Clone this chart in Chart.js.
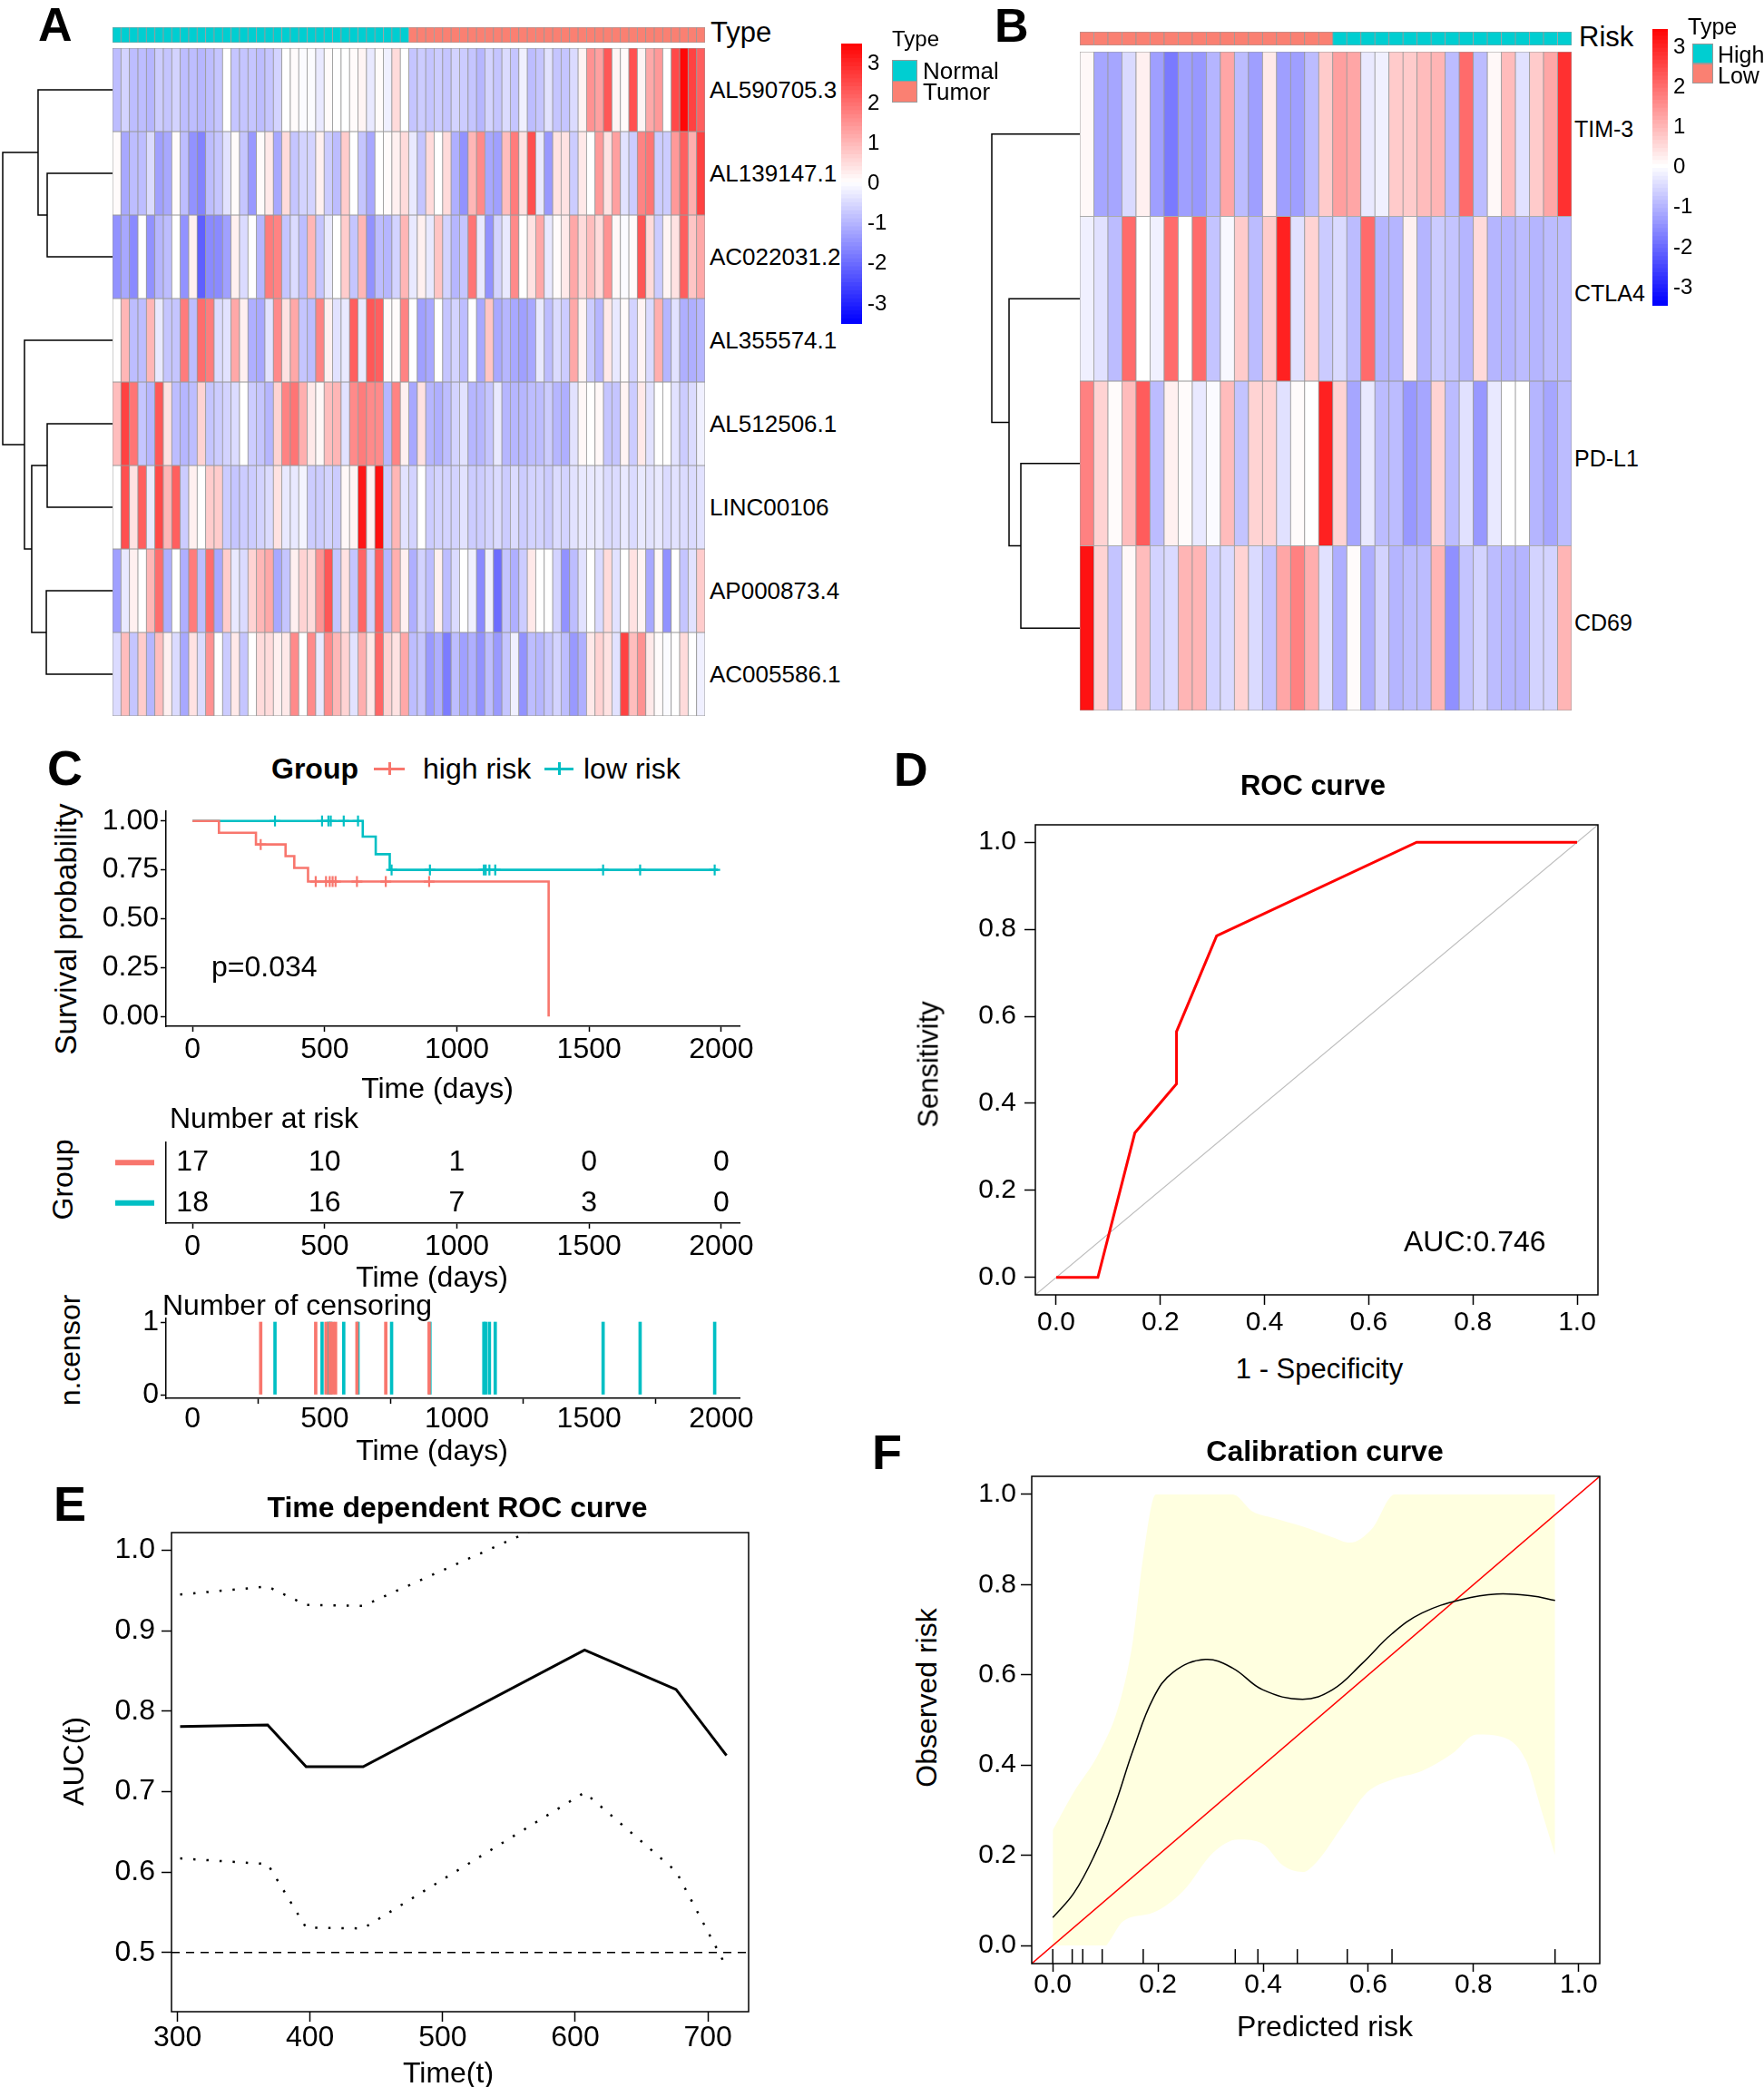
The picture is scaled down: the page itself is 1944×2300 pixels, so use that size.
<!DOCTYPE html>
<html><head><meta charset="utf-8">
<script src="https://cdn.jsdelivr.net/npm/chart.js@4.4.0/dist/chart.umd.min.js"></script>
<style>
body{margin:0;background:#fff}
#fig{position:relative;width:1944px;height:2300px;background:#fff;overflow:hidden;font-family:'Liberation Sans',Arial,sans-serif;color:#000}
#fig canvas{position:absolute}
.t{position:absolute;white-space:nowrap;line-height:1}
.r{position:absolute;box-sizing:border-box}
</style></head><body><div id="fig"></div><script>
// ---------- heatmap A ----------
const rowNamesA = ['AL590705.3','AL139147.1','AC022031.2','AL355574.1','AL512506.1','LINC00106','AP000873.4','AC005586.1'];
const typeCountsA = [['Normal', 35], ['Tumor', 35]];
const exprA = [
  [-0.9,-0.6,-0.9,-0.9,-1.0,-0.7,-0.8,-0.6,-0.9,-0.9,-1.0,-0.9,-0.8,0,-0.8,-0.8,-0.8,-0.9, -0.8,-0.6,0,0.05,-0.05,-0.05,-0.3,0.05,0,0,0.05,0.15,-0.3,0.05,-0.2,0.5,0,-0.8, -0.7,-0.8,-0.7,-0.8,-0.6,-0.7,-0.8,-1.0,-0.6,-0.8,-0.5,-0.8,-0.2,-0.9,-0.8,-0.4,-0.8, -0.8,-0.5,0.15,1.5,1.3,2.3,0.15,0.05,2.4,0.15,1.2,1.4,0,2.5,3.4,2.6,2.2],
  [0.05,-1.2,-0.9,-0.9,-0.5,-1.3,-1.2,0.05,-0.9,-1.5,-1.7,-0.9,-0.8,-0.4,0.05,-0.8,-1.4,0.05, 0.3,-1.2,0.5,-0.8,-0.6,-0.6,0.2,-0.7,-0.9,0.7,0,-0.8,-1.2,0,0.05,0.2,0.5,-0.3, -0.8,0.5,0,0.5,-1.1,-1.5,1.0,1.6,-1.2,-1.3,0.9,1.8,0.4,2.4,-0.3,-1.4,0.4, 0.4,-0.7,0.3,0,1.4,0.4,1.3,-0.4,-0.7,1.7,1.9,-0.7,-0.7,1.4,2.2,1.1,2.6],
  [-1.5,-1.2,-1.6,0,-1.5,-1.0,-0.9,0,-1.5,0.2,-2.2,-1.6,-1.6,-1.3,0.2,-0.5,0,-1.0, 1.8,1.7,-0.8,-0.5,-0.9,1.0,-0.8,-0.3,0,0.7,-0.8,1.0,-1.5,-0.9,-1.0,-0.6,1.0,-0.3, 0.2,-0.3,0.8,-0.6,-1.0,-0.8,1.9,-0.3,-1.5,-0.6,-0.3,1.6,0,0.4,1.2,-0.3,0.05, 0.3,1.2,0.5,0.9,0.5,1.5,0.1,-0.05,0.05,2.3,0.5,-0.7,0.15,0.4,2.2,0.8,1.2],
  [0.02,1.0,-0.9,-0.9,1.0,-0.3,-0.8,-0.8,1.8,-0.9,2.0,1.8,-0.5,-0.4,1.2,0.2,-1.1,-1.2, -0.4,1.6,0.4,1.2,-0.8,-0.9,1.7,0.2,-0.4,-0.3,2.2,-0.3,2.3,2.2,0.05,0.05,1.7,0, -1.3,-1.2,0,-0.8,-0.6,-0.9,0,-1.2,0.8,-1.2,-1.0,-1.2,-1.3,-1.2,-0.3,-0.9,-0.5, -0.7,1.2,0.15,-0.7,-1.0,0.3,-0.3,0.05,-0.6,0.15,-0.5,1.1,-1.0,-0.4,-1.1,-1.1,-1.0],
  [0.9,2.6,1.9,-0.8,-1.0,2.3,0.4,-0.9,-1.0,-0.9,0.6,-0.8,-0.7,-0.6,-0.5,0,-0.7,-0.8, -1.0,0.6,1.7,1.9,1.1,0.3,0.1,0.9,1.0,-0.4,1.6,1.8,1.6,1.6,-1.0,1.7,0.2,-1.2, 0.4,-1.0,-1.1,-0.9,-0.6,-0.4,-1.0,-1.0,-0.8,-0.3,-1.0,-1.0,-1.0,-0.9,-0.9,-0.7,-1.0, -1.1,-0.4,0.1,0,0.1,-0.8,-0.8,0.15,-0.7,0.3,-0.4,0,0,-0.4,-0.7,-0.5,-0.2],
  [0,2.4,0.4,2.2,-0.3,2.5,1.0,2.2,-0.7,0.2,0,0.7,0.7,-0.7,-0.8,-0.7,-0.7,-0.6, -0.5,0.4,-0.3,-0.3,-0.15,-0.7,-0.7,-0.6,-0.7,0.1,0.15,3.2,0.2,3.3,-0.7,1.0,-0.4,-0.6, 0,-0.7,-0.6,-0.6,-0.6,-0.4,-0.7,-0.7,-0.6,-0.5,-0.7,-0.5,-0.7,-0.6,-0.6,-0.7,-0.5, -0.6,-0.4,-0.3,-0.3,-0.3,-0.5,-0.5,-0.3,-0.5,-0.3,-0.4,-0.3,-0.5,-0.4,-0.5,-0.5,-0.4],
  [-1.3,-0.3,0.2,0,1.0,2.0,-1.1,0,-1.1,1.8,-0.9,2.0,-1.2,0.7,-0.3,-0.5,0.6,1.0, 1.2,-1.2,-0.8,0.2,0.6,0.5,1.5,2.3,-0.8,0.4,-0.8,2.1,-0.6,2.2,-1.0,1.1,0.2,-1.1, -0.6,-0.9,0.2,-0.9,-0.5,0,-0.2,-1.6,-0.2,-2.0,-0.8,-1.1,-0.7,0.3,0,0,-0.6, -1.5,-0.9,-0.4,0,-0.5,0.5,-0.4,0,0.4,0.15,-1.2,0.1,-1.5,0,-0.8,-0.4,0.7],
  [-0.5,0.9,-0.8,0.7,-1.0,0.9,0.2,-0.5,-1.2,0.4,-0.5,1.5,0,-0.7,0.3,-0.8,0,0.5, 0.5,0.2,0.3,1.6,0,1.6,-0.3,1.6,1.0,0.6,-0.4,1.1,0.3,2.1,0.6,0.4,1.2,-0.9, -0.8,-1.4,-1.1,-1.8,-0.9,-1.3,-1.1,-1.5,-0.9,-1.4,-0.8,-0.2,-1.5,-0.9,-1.0,-0.8,-0.6, -0.9,-1.4,-1.1,0.3,0.6,0.4,-0.4,2.6,0.9,1.5,0.3,0.05,-0.05,0,0.5,0,-0.2]
];
// merges: [child, child, height]; numbers are leaves (row index from 1), 'mK' is merge K
const dendroA = [[2, 3, 0.595], [1, 'm0', 0.678], [5, 6, 0.595], [7, 8, 0.603], ['m2', 'm3', 0.736], [4, 'm4', 0.802], ['m1', 'm5', 1.0]];
const scaleTicks = [-3, -2, -1, 0, 1, 2, 3];

// ---------- heatmap B ----------
const rowNamesB = ['TIM-3', 'CTLA4', 'PD-L1', 'CD69'];
const riskCountsB = [['Low', 18], ['High', 17]];
const exprB = [
  [0.1,-1.2,-1.2,-0.5,0.2,-1.3,-1.8,-1.3,-1.4,-1.0,1.2,-0.9,-1.3,0.3,-1.3,-1.3,-0.9,0.7,1.3,1.2,-0.3,-0.2,0.7,0.7,0.9,1.0,-0.9,2.0,-0.9,0.1,0.9,-0.4,0.7,1.2,2.8],
  [-0.2,-0.4,-0.9,2.0,0,-0.2,2.0,0,2.0,-0.8,-0.1,0.7,-0.9,0.7,3.0,-0.4,0.6,-0.7,-0.5,-0.9,2.0,-1.0,-1.0,0.2,-1.0,-0.7,-0.8,-1.0,0.5,-1.0,-1.0,-0.9,-1.0,-0.9,-0.9],
  [1.7,0.6,0.05,0.9,2.2,-0.9,0.2,0.05,-0.3,-0.05,0.9,-0.8,0.6,0.6,-0.4,0.05,0,3.0,0.6,-1.2,-0.3,-0.9,-0.9,-1.4,-1.2,0.6,-0.9,-0.4,-1.4,-0.3,0,0,-1.0,-1.2,-0.9],
  [3.2,0.6,-0.8,0.1,0.9,-0.6,-0.5,1.0,1.0,-0.6,-0.5,0.6,-0.5,-0.8,1.2,1.7,1.1,-0.4,-1.1,0.05,-1.1,-0.6,-1.0,-0.9,-0.9,1.0,-1.5,-0.8,-0.6,-0.9,-1.0,-1.0,-0.6,-0.6,1.0]
];
const dendroB = [[3, 4, 0.67], [2, 'm0', 0.804], [1, 'm1', 1.0]];

// ---------- C: Kaplan-Meier ----------
const kmTicksX = [0, 500, 1000, 1500, 2000];
const kmTicksY = [0, 0.25, 0.5, 0.75, 1];
const highTimes = [0, 100, 240, 352, 385, 437, 1347];
const highSurv = [1, 0.94, 0.88, 0.82, 0.76, 0.69, 0];
const lowTimes = [0, 644, 693, 746, 1987];
const lowSurv = [1, 0.92, 0.83, 0.75, 0.75];
const highCensor = [258, 466, 505, 519, 530, 541, 622, 731, 895];
const lowCensor = [312, 490, 514, 523, 572, 626, 753, 898, 1102, 1109, 1123, 1145, 1553, 1693, 1975];
const riskTimes = [0, 500, 1000, 1500, 2000];
const riskHigh = [17, 10, 1, 0, 0];
const riskLow = [18, 16, 7, 3, 0];

// ---------- D: ROC ----------
const rocFPR = [0, 0.08, 0.151, 0.231, 0.231, 0.308, 0.692, 1.0];
const rocTPR = [0, 0, 0.332, 0.445, 0.565, 0.785, 1.0, 1.0];
const ticks01 = [0, 0.2, 0.4, 0.6, 0.8, 1.0];

// ---------- E: time dependent ROC ----------
const eTimes = [302, 368, 397, 440, 607, 676, 714];
const eAUC = [0.781, 0.783, 0.731, 0.731, 0.876, 0.827, 0.745];
const eLower = [0.617, 0.610, 0.531, 0.530, 0.699, 0.601, 0.482];
const eUpper = [0.945, 0.955, 0.932, 0.931, 1.054, 1.05, 1.03];
const eTicksX = [300, 400, 500, 600, 700];
const eTicksY = [0.5, 0.6, 0.7, 0.8, 0.9, 1.0];

// ---------- F: calibration ----------
const calX = [0, 0.04, 0.078, 0.115, 0.153, 0.191, 0.229, 0.29, 0.342, 0.399, 0.475, 0.532, 0.588, 0.645, 0.702, 0.778, 0.844, 0.91, 0.955];
const calY = [0.062, 0.116, 0.197, 0.301, 0.434, 0.548, 0.606, 0.634, 0.615, 0.567, 0.546, 0.567, 0.625, 0.691, 0.737, 0.767, 0.779, 0.775, 0.765];
const bandUpX = [0, 0.04, 0.087, 0.125, 0.153, 0.172, 0.196, 0.342, 0.38, 0.418, 0.475, 0.532, 0.565, 0.607, 0.65, 0.955];
const bandUpY = [0.256, 0.34, 0.425, 0.53, 0.68, 0.862, 1.0, 1.0, 0.962, 0.948, 0.929, 0.905, 0.893, 0.924, 1.0, 1.0];
const bandLoX = [0, 0.101, 0.106, 0.134, 0.191, 0.248, 0.305, 0.352, 0.40, 0.437, 0.475, 0.503, 0.55, 0.598, 0.645, 0.702, 0.759, 0.806, 0.853, 0.90, 0.929, 0.955];
const bandLoY = [0, 0, 0.007, 0.054, 0.073, 0.121, 0.206, 0.235, 0.225, 0.178, 0.163, 0.187, 0.263, 0.34, 0.368, 0.387, 0.425, 0.468, 0.463, 0.41, 0.30, 0.20];
const rugX = [0, 0.037, 0.057, 0.094, 0.172, 0.347, 0.390, 0.465, 0.560, 0.645, 0.955];

const HIGH = '#F8766D', LOW = '#00BFC4';
const annoColors = { Normal: '#00CED1', Tumor: '#FA8072', High: '#00CED1', Low: '#FA8072' };

// ---------- helpers ----------
Chart.defaults.font.family = "'Liberation Sans', Arial, sans-serif";
Chart.defaults.color = '#000';
const fig = document.getElementById('fig');

Chart.register({
  id: 'box',
  afterDraw(chart, args, o) {
    if (!o.on) return;
    const a = chart.chartArea, ctx = chart.ctx;
    ctx.save(); ctx.strokeStyle = '#000'; ctx.lineWidth = 1.5;
    ctx.strokeRect(a.left, a.top, a.right - a.left, a.bottom - a.top);
    ctx.restore();
  }
});

function canvasAt(L, T, W, H) {
  const c = document.createElement('canvas');
  c.width = W; c.height = H;
  Object.assign(c.style, { left: L + 'px', top: T + 'px', width: W + 'px', height: H + 'px' });
  fig.appendChild(c);
  return c;
}
function frame(L, T, W, H, x0, y0, x1, y1) {
  return { canvas: canvasAt(L, T, W, H), padding: { left: 0, top: y0 - T, right: L + W - x1, bottom: 0 }, yW: x0 - L, xH: T + H - y1 };
}
function txt(s, x, y, size, o = {}) {
  const d = document.createElement('div');
  d.className = 't'; d.textContent = s;
  Object.assign(d.style, { left: x + 'px', top: y + 'px', fontSize: size + 'px' });
  if (o.bold) d.style.fontWeight = 'bold';
  const ax = o.align === 'c' ? '-50%' : o.align === 'r' ? '-100%' : '0';
  d.style.transform = o.rot ? 'translate(-50%,-50%) rotate(-90deg)' : `translate(${ax},-50%)`;
  fig.appendChild(d);
}
function rect(x, y, w, h, bg, border) {
  const d = document.createElement('div');
  d.className = 'r';
  Object.assign(d.style, { left: x + 'px', top: y + 'px', width: w + 'px', height: h + 'px', background: bg });
  if (border) d.style.border = border;
  fig.appendChild(d);
}
function axis(a, pos, size) {
  return {
    type: 'linear', position: pos, min: a.min, max: a.max, reverse: !!a.reverse, offset: false,
    afterBuildTicks: s => { s.ticks = (a.ticks || []).map(v => ({ value: v })); },
    afterFit: s => {
      if (pos === 'left' || pos === 'right') s.width = size; else s.height = size;
      s.paddingTop = s.paddingBottom = s.paddingLeft = s.paddingRight = 0;
    },
    grid: { display: !!a.tl, drawOnChartArea: false, drawTicks: true, tickLength: a.tl || 0, tickColor: '#000', tickWidth: 1.5 },
    border: { display: !!a.line, color: '#000', width: 1.5 },
    ticks: { display: !!a.fmt, callback: a.fmt || (() => ''), font: { size: a.size || 30, lineHeight: 1 }, color: '#000', padding: a.pad || 0, maxRotation: 0, autoSkip: false }
  };
}
function baseOpts(padding) {
  return {
    responsive: false, animation: false, devicePixelRatio: 1, events: [],
    layout: { autoPadding: false, padding },
    plugins: { legend: { display: false }, tooltip: { enabled: false } }
  };
}
function xyChart(f, xa, ya, datasets, box, type, plugins) {
  const o = baseOpts(f.padding);
  o.plugins.box = { on: !!box };
  o.scales = { x: axis(xa, 'bottom', f.xH), y: axis(ya, 'left', f.yW) };
  return new Chart(f.canvas, { type: type || 'scatter', data: { datasets }, options: o, plugins: plugins || [] });
}
const line = (pts, color, w, extra) => Object.assign({ data: pts, showLine: true, borderColor: color, backgroundColor: color, borderWidth: w, pointRadius: 0, tension: 0 }, extra || {});
const zip = (xs, ys) => xs.map((x, i) => ({ x, y: ys[i] }));
const expand = counts => counts.flatMap(([k, n]) => Array.from({ length: n }, () => k));
function heatColor(v, lim) {
  const t = Math.max(-1, Math.min(1, v / lim));
  const k = Math.round(255 * (1 - Math.abs(t)));
  return t >= 0 ? `rgb(255,${k},${k})` : `rgb(${k},${k},255)`;
}
function heatChart(L, T, W, H, rows, colorOf) {
  const o = baseOpts(0);
  o.scales = { x: { display: false, stacked: true }, y: { display: false, stacked: true, reverse: true, min: 0, max: rows.length } };
  new Chart(canvasAt(L, T, W, H), {
    type: 'bar',
    data: {
      labels: rows[0].map((_, i) => i + 1),
      datasets: rows.map(r => ({ data: r.map(() => 1), backgroundColor: r.map(colorOf), borderColor: '#999', borderWidth: 0.8, borderSkipped: false, barPercentage: 1, categoryPercentage: 1 }))
    },
    options: o
  });
}
function dendroChart(L, T, W, H, padLeft, merges, nLeaves) {
  const nodes = [];
  const get = k => typeof k === 'number' ? { h: 0, y: k - 0.5 } : nodes[+k.slice(1)];
  const sets = merges.map(([a, b, h]) => {
    const A = get(a), B = get(b);
    nodes.push({ h, y: (A.y + B.y) / 2 });
    return line([{ x: A.h, y: A.y }, { x: h, y: A.y }, { x: h, y: B.y }, { x: B.h, y: B.y }], '#000', 1.5, { clip: false });
  });
  const o = baseOpts({ left: padLeft, top: 0, right: 0, bottom: 0 });
  o.scales = { x: { display: false, type: 'linear', min: 0, max: 1, reverse: true }, y: { display: false, type: 'linear', min: 0, max: nLeaves, reverse: true } };
  new Chart(canvasAt(L, T, W, H), { type: 'scatter', data: { datasets: sets }, options: o });
}
function colorBar(L, T, W, H, padTop, padBottom, barW, lim) {
  const sets = [];
  for (let v = -lim; v < lim - 1e-9; v += 0.1) {
    sets.push({ data: [[v, Math.min(v + 0.13, lim)]], backgroundColor: heatColor(v + 0.05, lim), grouped: false, barPercentage: 1, categoryPercentage: 1, borderWidth: 0 });
  }
  const o = baseOpts({ left: 0, top: padTop, right: 0, bottom: padBottom });
  o.scales = { x: { display: false }, y: axis({ min: -lim, max: lim, ticks: scaleTicks, fmt: v => String(v), pad: 6, size: 24 }, 'right', W - barW) };
  new Chart(canvasAt(L, T, W, H), { type: 'bar', data: { labels: [''], datasets: sets }, options: o });
}

// ---------- Panel A ----------
const typeA = expand(typeCountsA);
dendroChart(0, 53, 124, 736, 3, dendroA, rowNamesA.length);
heatChart(124, 30, 653, 17, [typeA], t => annoColors[t]);
heatChart(124, 53, 653, 736, exprA, v => heatColor(v, 3.5));
rowNamesA.forEach((n, i) => txt(n, 782, 53 + (i + 0.5) * 92, 26));
txt('Type', 783, 35, 31);
colorBar(927, 30, 60, 345, 18, 18, 23, 3.5);
txt('Type', 983, 43, 24);
rect(983, 66, 28, 24, annoColors.Normal, '1.5px solid #999');
rect(983, 89, 28, 24, annoColors.Tumor, '1.5px solid #999');
txt('Normal', 1017, 78, 26);
txt('Tumor', 1017, 101, 26);
txt('A', 42, 27, 52, { bold: true });

// ---------- Panel B ----------
const riskB = expand(riskCountsB);
dendroChart(1090, 57, 100, 726, 3, dendroB, rowNamesB.length);
heatChart(1190, 35, 542, 15, [riskB], t => annoColors[t]);
heatChart(1190, 57, 542, 726, exprB, v => heatColor(v, 3.45));
rowNamesB.forEach((n, i) => txt(n, 1735, 57 + (i + 0.5) * 181.5 - 6, 25));
txt('Risk', 1740, 40, 31);
colorBar(1821, 20, 60, 335, 12, 18, 17, 3.45);
txt('Type', 1860, 29, 25);
rect(1865, 48, 23, 22, annoColors.High, '1.5px solid #999');
rect(1865, 70, 23, 22, annoColors.Low, '1.5px solid #999');
txt('High', 1893, 60, 25);
txt('Low', 1893, 83, 25);
txt('B', 1096, 28, 52, { bold: true });

// ---------- Panel C ----------
const survAt = (times, surv, t) => { let s = surv[0]; times.forEach((tt, i) => { if (tt <= t) s = surv[i]; }); return s; };
const kmX = { min: -100, max: 2069, ticks: kmTicksX, fmt: v => String(v), tl: 6, pad: 4, size: 32, line: true };
const fKM = frame(100, 870, 760, 320, 183, 894, 815, 1131);
xyChart(fKM, kmX, { min: -0.05, max: 1.05, ticks: kmTicksY, fmt: v => v.toFixed(2), tl: 6, pad: 2, size: 32, line: true }, [
  line(zip(highTimes, highSurv), HIGH, 2.6, { stepped: 'before' }),
  line(zip(lowTimes, lowSurv), LOW, 2.6, { stepped: 'before' }),
  { data: highCensor.map(t => ({ x: t, y: survAt(highTimes, highSurv, t) })), pointStyle: 'cross', pointRadius: 6, borderColor: HIGH, borderWidth: 2.2 },
  { data: lowCensor.map(t => ({ x: t, y: survAt(lowTimes, lowSurv, t) })), pointStyle: 'cross', pointRadius: 6, borderColor: LOW, borderWidth: 2.2 }
]);
txt('C', 52, 846, 54, { bold: true });
txt('Group', 299, 847, 32, { bold: true });
rect(412, 845.5, 34, 3, HIGH); rect(427.5, 840, 3, 14, HIGH);
txt('high risk', 466, 847, 32);
rect(600, 845.5, 32, 3, LOW); rect(614.5, 840, 3, 14, LOW);
txt('low risk', 643, 847, 32);
txt('Survival probability', 72, 1024, 33, { rot: true });
txt('p=0.034', 233, 1065, 32);
txt('Time (days)', 482, 1199, 32, { align: 'c' });

const riskRows = [riskHigh, riskLow];
const riskColors = [HIGH, LOW];
const riskPlugin = {
  id: 'riskText',
  afterDatasetsDraw(chart) {
    const { ctx, scales: { x, y }, chartArea } = chart;
    ctx.save();
    ctx.font = "32px 'Liberation Sans', Arial, sans-serif";
    ctx.textAlign = 'center'; ctx.textBaseline = 'middle';
    riskRows.forEach((row, r) => {
      const py = y.getPixelForValue(r + 0.5);
      ctx.fillStyle = '#000';
      row.forEach((n, i) => ctx.fillText(String(n), x.getPixelForValue(riskTimes[i]), py));
      ctx.fillStyle = riskColors[r];
      ctx.fillRect(chartArea.left - 56, py - 3, 43, 6);
    });
    ctx.restore();
  }
};
const fRisk = frame(100, 1240, 760, 160, 183, 1259, 815, 1348);
xyChart(fRisk, kmX, { min: 0, max: 2, reverse: true, ticks: [], line: true }, [], false, 'scatter', [riskPlugin]);
txt('Number at risk', 187, 1232, 32);
txt('Group', 69, 1300, 32, { rot: true });
txt('Time (days)', 476, 1407, 32, { align: 'c' });

const fCen = frame(100, 1430, 760, 155, 183, 1453, 815, 1541);
xyChart(fCen, Object.assign({}, kmX, { pad: 1 }), { min: -0.05, max: 1.05, ticks: [0, 1], fmt: v => String(v), tl: 6, pad: 2, size: 32, line: true }, [
  { data: highCensor.map(t => ({ x: t, y: 1 })), backgroundColor: HIGH, barThickness: 3, grouped: false },
  { data: lowCensor.map(t => ({ x: t, y: 1 })), backgroundColor: LOW, barThickness: 3, grouped: false }
], false, 'bar');
txt('Number of censoring', 179, 1438, 32);
txt('n.censor', 77, 1488, 32, { rot: true });
txt('Time (days)', 476, 1598, 32, { align: 'c' });

// ---------- Panel D ----------
const lim01 = [-0.04, 1.04];
const f1 = v => v.toFixed(1);
const fD = frame(1040, 880, 760, 600, 1141, 909, 1761, 1427);
xyChart(fD, { min: lim01[0], max: lim01[1], ticks: ticks01, fmt: f1, tl: 11, pad: 5, size: 30 },
  { min: lim01[0], max: lim01[1], ticks: ticks01, fmt: f1, tl: 12, pad: 9, size: 30 }, [
  line(zip(rocFPR, rocTPR), '#FF0000', 3),
  line(zip(lim01, lim01), '#BEBEBE', 1.2)
], true);
txt('D', 985, 848, 52, { bold: true });
txt('ROC curve', 1447, 865, 31, { bold: true, align: 'c' });
txt('Sensitivity', 1023, 1173, 31, { rot: true });
txt('1 - Specificity', 1454, 1508, 31, { align: 'c' });
txt('AUC:0.746', 1547, 1368, 32);

// ---------- Panel E ----------
const eLimX = [295.5, 730.7];
const fE = frame(90, 1670, 760, 630, 189, 1689, 825, 2217);
xyChart(fE, { min: eLimX[0], max: eLimX[1], ticks: eTicksX, fmt: v => String(v), tl: 11, pad: 2, size: 32 },
  { min: 0.4265, max: 1.022, ticks: eTicksY, fmt: f1, tl: 11, pad: 7, size: 32 }, [
  line(zip(eTimes, eAUC), '#000', 3),
  line(zip(eTimes, eUpper), '#000', 2.5, { borderDash: [2.5, 12] }),
  line(zip(eTimes, eLower), '#000', 2.5, { borderDash: [2.5, 12] }),
  line(eLimX.map(x => ({ x, y: 0.5 })), '#000', 1.5, { borderDash: [9, 7] })
], true);
txt('E', 59, 1657, 54, { bold: true });
txt('Time dependent ROC curve', 504, 1661, 32, { bold: true, align: 'c' });
txt('AUC(t)', 81, 1941, 32, { rot: true });
txt('Time(t)', 494, 2284, 32, { align: 'c' });

// ---------- Panel F ----------
const fF = frame(1040, 1600, 760, 640, 1137, 1627, 1763, 2164);
xyChart(fF, { min: lim01[0], max: lim01[1], ticks: ticks01, fmt: f1, tl: 9, pad: 0, size: 30 },
  { min: lim01[0], max: lim01[1], ticks: ticks01, fmt: f1, tl: 12, pad: 5, size: 30 }, [
  line(zip(calX, calY), '#000', 1.5, { tension: 0.4 }),
  line(zip(lim01, lim01), '#FF0000', 1.5),
  ...rugX.map(x => line([{ x, y: lim01[0] }, { x, y: lim01[0] + 0.032 }], '#000', 1.5, { clip: false })),
  line(zip(bandUpX, bandUpY), 'rgba(0,0,0,0)', 0, { fill: '+1', backgroundColor: '#FFFFE0', cubicInterpolationMode: 'monotone' }),
  line(zip(bandLoX, bandLoY), 'rgba(0,0,0,0)', 0, { backgroundColor: '#FFFFE0', cubicInterpolationMode: 'monotone' })
], true);
txt('F', 961, 1600, 54, { bold: true });
txt('Calibration curve', 1460, 1599, 32, { bold: true, align: 'c' });
txt('Observed risk', 1021, 1871, 32, { rot: true });
txt('Predicted risk', 1460, 2233, 32, { align: 'c' });
</script></body></html>
